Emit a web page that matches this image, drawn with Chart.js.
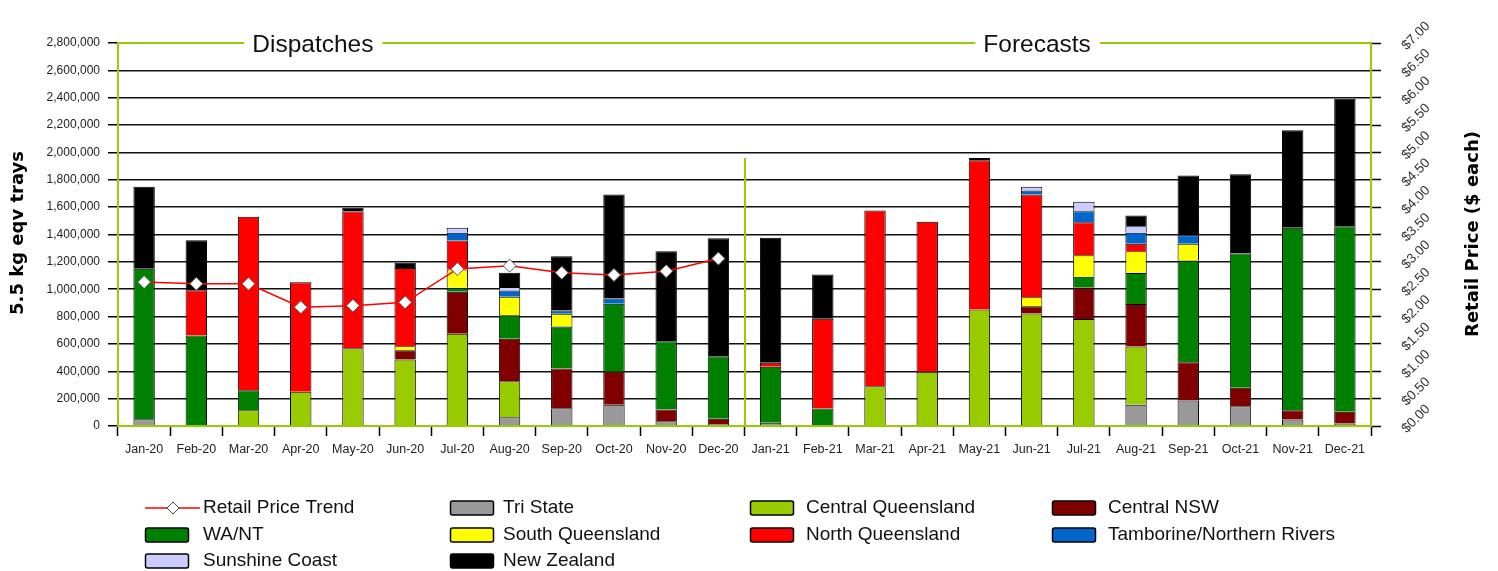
<!DOCTYPE html>
<html><head><meta charset="utf-8">
<script src="https://cdn.jsdelivr.net/npm/chart.js@4.4.0/dist/chart.umd.min.js"></script>
<style>html,body{margin:0;padding:0;background:#fff;overflow:hidden}canvas{display:block}</style>
</head><body>
<canvas id="c" width="1498" height="571"></canvas>
<script>
const categories = ['Jan-20','Feb-20','Mar-20','Apr-20','May-20','Jun-20','Jul-20','Aug-20','Sep-20','Oct-20','Nov-20','Dec-20',
                    'Jan-21','Feb-21','Mar-21','Apr-21','May-21','Jun-21','Jul-21','Aug-21','Sep-21','Oct-21','Nov-21','Dec-21'];
const retailPrice = [2.63,2.60,2.60,2.17,2.20,2.26,2.87,2.93,2.80,2.76,2.83,3.06,
                     null,null,null,null,null,null,null,null,null,null,null,null];
const triState = [50000,5000,0,0,0,0,8000,64000,130000,155000,35000,15000,
                  23000,5000,0,0,0,0,8000,156000,186000,145000,47000,18000];
const centralQueensland = [0,0,116000,250000,569000,486000,666000,264000,0,0,0,0,
                           0,0,291000,396000,852000,822000,775000,426000,0,0,0,0];
const centralNSW = [0,0,0,0,0,68000,307000,309000,290000,241000,86000,38000,
                    0,0,0,0,0,54000,227000,310000,280000,134000,68000,86000];
const waNT = [1100000,657000,146000,0,0,0,29000,173000,307000,497000,499000,457000,
              410000,123000,0,0,0,0,81000,227000,744000,982000,1334000,1357000];
const southQueensland = [0,0,0,0,0,29000,134000,134000,93000,0,0,0,
                         0,0,0,0,0,65000,158000,158000,122000,0,0,0];
const northQueensland = [0,331000,1267000,801000,999000,573000,212000,0,0,0,0,0,
                         29000,656000,1284000,1097000,1091000,751000,241000,55000,0,0,0,0];
const tamborine = [0,0,0,0,0,0,56000,46000,24000,39000,0,0,
                   0,0,0,0,0,30000,80000,80000,63000,0,0,0];
const sunshineCoast = [0,0,0,0,0,0,37000,27000,0,0,0,0,
                       0,0,0,0,0,27000,69000,48000,0,0,0,0];
const newZealand = [600000,365000,0,0,27000,37000,0,103000,397000,760000,658000,863000,
                    914000,324000,0,0,17000,0,0,78000,436000,580000,714000,931000];
const sectionTitles = ['Dispatches','Forecasts'];
const leftAxisTitle = '5.5 kg eqv trays';
const rightAxisTitle = 'Retail Price ($ each)';

const FONT = '"Liberation Sans", Arial, sans-serif';
const TFONT = '"DejaVu Sans", Verdana, sans-serif';
const GREEN = '#99cc00';

function barSet(label, data, color) {
  return { type: 'bar', label, data, backgroundColor: color, borderColor: '#000', borderWidth: 1,
           barPercentage: 0.41, categoryPercentage: 1.0, yAxisID: 'y', order: 1 };
}

const datasets = [
  { type: 'line', label: 'Retail Price Trend', data: retailPrice, yAxisID: 'y1', order: 0,
    borderColor: '#ff0000', borderWidth: 1.5, tension: 0, fill: false,
    pointStyle: 'rectRot', pointRadius: 6.5, pointBackgroundColor: '#ffffff',
    pointBorderColor: '#555555', pointBorderWidth: 1 },
  barSet('Tri State', triState, '#999999'),
  barSet('Central Queensland', centralQueensland, '#99cc00'),
  barSet('Central NSW', centralNSW, '#800000'),
  barSet('WA/NT', waNT, '#008000'),
  barSet('South Queensland', southQueensland, '#ffff00'),
  barSet('North Queensland', northQueensland, '#ff0000'),
  barSet('Tamborine/Northern Rivers', tamborine, '#0066cc'),
  barSet('Sunshine Coast', sunshineCoast, '#ccccff'),
  barSet('New Zealand', newZealand, '#000000')
];

const decor = {
  id: 'decor',
  afterDraw(chart) {
    const ctx = chart.ctx, a = chart.chartArea, xs = chart.scales.x, y1 = chart.scales.y1;
    ctx.save();
    // divider between dispatches and forecasts
    const divX = Math.round((xs.getPixelForValue(11) + xs.getPixelForValue(12)) / 2);
    ctx.strokeStyle = GREEN; ctx.lineWidth = 2;
    ctx.beginPath(); ctx.moveTo(divX, a.top + (a.bottom - a.top) * 0.3); ctx.lineTo(divX, a.bottom); ctx.stroke();
    // section titles along top line
    ctx.font = '24.5px ' + FONT;
    ctx.fillStyle = '#111'; ctx.textAlign = 'center'; ctx.textBaseline = 'alphabetic';
    const centers = [a.left + (a.right - a.left) * 0.1555, a.left + (a.right - a.left) * 0.7335];
    const gaps = [];
    sectionTitles.forEach((t, i) => {
      const w = ctx.measureText(t).width;
      ctx.fillText(t, centers[i], a.top + 9);
      gaps.push([centers[i] - w / 2 - 8, centers[i] + w / 2 + 9]);
    });
    ctx.beginPath();
    let x0 = a.left;
    gaps.forEach(g => { ctx.moveTo(x0, a.top); ctx.lineTo(g[0], a.top); x0 = g[1]; });
    ctx.moveTo(x0, a.top); ctx.lineTo(a.right + 1, a.top);
    ctx.stroke();
    // right axis tick labels (rotated)
    ctx.font = '13.5px ' + FONT; ctx.fillStyle = '#333'; ctx.textAlign = 'center'; ctx.textBaseline = 'middle';
    y1.ticks.forEach(t => {
      const ty = y1.getPixelForValue(t.value);
      ctx.save(); ctx.translate(a.right + 45, ty - 7); ctx.rotate(-Math.PI / 4);
      ctx.fillText('$' + t.value.toFixed(2), 0, 0); ctx.restore();
    });
    // axis titles
    ctx.font = 'bold 18px ' + TFONT; ctx.fillStyle = '#000'; ctx.textBaseline = 'middle';
    ctx.save(); ctx.translate(18, 233); ctx.rotate(-Math.PI / 2); ctx.fillText(leftAxisTitle, 0, 0); ctx.restore();
    ctx.save(); ctx.translate(1473, 234); ctx.rotate(-Math.PI / 2); ctx.fillText(rightAxisTitle, 0, 0); ctx.restore();
    // legend
    const boxX = [145, 450, 750, 1052], textX = [203, 503, 806, 1108], rowY = [508, 535, 561];
    ctx.font = '19px ' + FONT; ctx.textAlign = 'left'; ctx.textBaseline = 'middle';
    chart.data.datasets.forEach((ds, i) => {
      const col = i % 4, row = Math.floor(i / 4);
      const bx = boxX[col], y = rowY[row];
      if (ds.type === 'line') {
        ctx.strokeStyle = ds.borderColor; ctx.lineWidth = 1.5;
        ctx.beginPath(); ctx.moveTo(bx, y); ctx.lineTo(bx + 55, y); ctx.stroke();
        const cx = bx + 28, r = 6;
        ctx.beginPath(); ctx.moveTo(cx, y - r); ctx.lineTo(cx + r, y); ctx.lineTo(cx, y + r); ctx.lineTo(cx - r, y); ctx.closePath();
        ctx.fillStyle = '#fff'; ctx.fill(); ctx.strokeStyle = '#444'; ctx.lineWidth = 1; ctx.stroke();
      } else {
        ctx.beginPath(); ctx.roundRect(bx + 0.5, y - 7, 43, 14, 2);
        ctx.fillStyle = ds.backgroundColor; ctx.fill();
        ctx.strokeStyle = '#000'; ctx.lineWidth = 1.5; ctx.stroke();
      }
      ctx.fillStyle = '#111';
      ctx.fillText(ds.label, textX[col], y);
    });
    ctx.restore();
  }
};

new Chart(document.getElementById('c'), {
  type: 'bar',
  data: { labels: categories, datasets },
  options: {
    responsive: false, animation: false,
    layout: { padding: { top: 43, left: 0, right: 0, bottom: 0 } },
    plugins: { legend: { display: false }, tooltip: { enabled: false } },
    scales: {
      x: {
        stacked: true, offset: true,
        grid: { offset: true, drawOnChartArea: false, drawTicks: true, tickLength: 10, tickColor: '#000', tickWidth: 1.5 },
        border: { color: GREEN, width: 2 },
        ticks: { font: { family: FONT, size: 12.5 }, color: '#222', padding: 6, maxRotation: 0, autoSkip: false },
        afterFit: s => { s.height = 145; }
      },
      y: {
        stacked: true, position: 'left', min: 0, max: 2800000,
        ticks: { stepSize: 200000, callback: v => v.toLocaleString('en-US'), font: { family: FONT, size: 12 }, color: '#222', padding: 8 },
        grid: { color: c => (c.tick && (c.tick.value === 2800000 || c.tick.value === 0)) ? 'rgba(0,0,0,0)' : '#111',
                lineWidth: 1.5, tickLength: 10, tickColor: '#000', tickWidth: 1.5 },
        border: { color: GREEN, width: 2 },
        afterFit: s => { s.width = 118; }
      },
      y1: {
        position: 'right', min: 0, max: 7,
        ticks: { stepSize: 0.5, display: false },
        grid: { drawOnChartArea: false, drawTicks: true, tickLength: 10, tickColor: '#000', tickWidth: 1.5 },
        border: { color: GREEN, width: 2 },
        afterFit: s => { s.width = 127; }
      }
    }
  },
  plugins: [decor]
});
</script>
</body></html>
